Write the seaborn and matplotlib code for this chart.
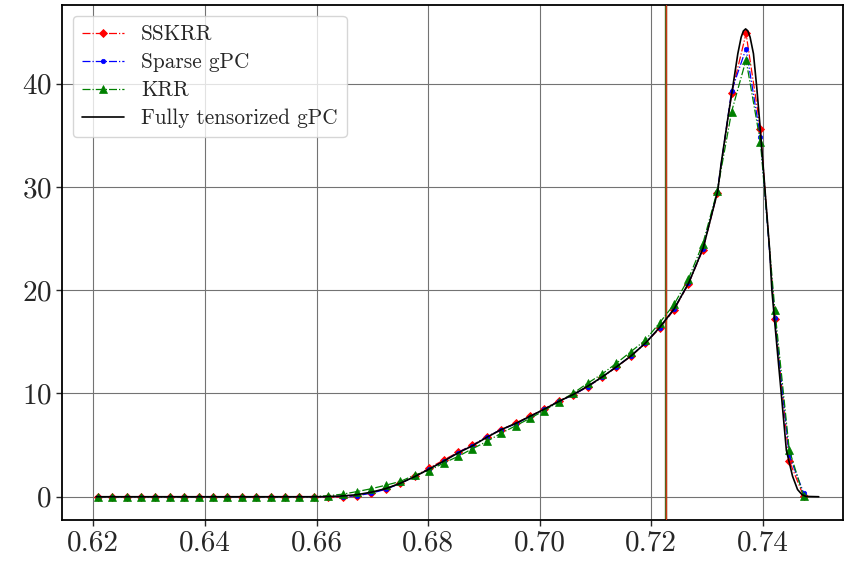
import numpy as np
import pandas as pd
import matplotlib
matplotlib.use("Agg")
import matplotlib.pyplot as plt
import seaborn as sns

# ---- data ----
x_start, x_stop, n_pts = 0.6208, 0.7473, 50
x_markers = np.linspace(x_start, x_stop, n_pts)

sskrr = [0, 0, 0, 0, 0, 0, 0, 0, 0, 0, 0, 0, 0, 0, 0,
         0.0, -0.05, -0.05, 0.1, 0.4, 0.78, 1.3, 1.98, 2.77, 3.55,
         4.3, 5.0, 5.8, 6.5, 7.1, 7.8, 8.5, 9.3, 9.85, 10.65,
         11.55, 12.55, 13.6, 14.85, 16.3, 18.1, 20.6, 23.9, 29.4, 39.06,
         44.86, 35.56, 17.17, 3.48, 0.03]
sparse_gpc = [0, 0, 0, 0, 0, 0, 0, 0, 0, 0, 0, 0, 0, 0, 0,
              0.0, 0.0, 0.02, 0.1, 0.35, 0.72, 1.3, 1.95, 2.7, 3.42,
              4.28, 4.96, 5.8, 6.5, 7.05, 7.76, 8.47, 9.25, 9.85, 10.66,
              11.56, 12.59, 13.62, 14.9, 16.35, 18.16, 20.65, 24.0, 29.5, 39.3,
              43.4, 34.8, 17.3, 4.0, 0.35]
krr = [0, 0, 0, 0, 0, 0, 0, 0, 0, 0, 0, 0, 0, 0, 0,
       0.02, 0.1, 0.25, 0.5, 0.78, 1.12, 1.48, 2.1, 2.54, 3.25,
       3.9, 4.64, 5.35, 6.15, 6.86, 7.6, 8.34, 9.2, 10.02, 10.99,
       11.88, 12.92, 14.04, 15.15, 16.84, 18.62, 21.1, 24.5, 29.6, 37.3,
       42.3, 34.3, 18.1, 4.54, 0.03]

x_full = [0.6205, 0.6260, 0.6400, 0.6550, 0.6600, 0.6621, 0.6647, 0.6673, 0.6699,
          0.6725, 0.6750, 0.6776, 0.6802, 0.6828, 0.6854, 0.6880, 0.6905, 0.6931,
          0.6957, 0.6983, 0.7009, 0.7035, 0.7060, 0.7086, 0.7112, 0.7138, 0.7164,
          0.7190, 0.7215, 0.7241, 0.7267, 0.7293, 0.7319, 0.7325, 0.7337, 0.7346,
          0.7355, 0.7361, 0.7365, 0.7369, 0.7373, 0.7377, 0.7383, 0.7389, 0.7394,
          0.7401, 0.7412, 0.7416, 0.7425, 0.7433, 0.7442, 0.7453, 0.7462, 0.7470,
          0.7477, 0.7500]
fully_gpc = [0.0, 0.0, 0.0, 0.0, 0.0, 0.02, 0.08, 0.2, 0.45, 0.8, 1.3, 1.95, 2.68,
             3.45, 4.25, 4.95, 5.75, 6.5, 7.1, 7.8, 8.5, 9.25, 9.9, 10.7, 11.6,
             12.6, 13.65, 14.9, 16.4, 18.2, 20.7, 24.1, 29.6, 32.2, 36.6, 39.7,
             42.9, 44.5, 45.1, 45.3, 45.1, 44.5, 42.9, 39.6, 36.4,
             31.6, 23.9, 20.0, 14.6, 9.9, 4.5, 2.0, 0.7, 0.2,
             0.03, 0.0]

x_vline = 0.7227

labels = ["SSKRR", "Sparse gPC", "KRR", "Fully tensorized gPC"]

# ---- style ----
sns.set_style("ticks")
plt.rcParams.update({
    "font.family": "serif",
    "font.serif": ["cmr10", "DejaVu Serif"],
    "mathtext.fontset": "cm",
    "axes.formatter.use_mathtext": True,
    "axes.unicode_minus": False,
})

fig = plt.figure(figsize=(8.44, 5.71), dpi=100)
ax = fig.add_axes([0.0735, 0.089, 0.925, 0.902])

sns.lineplot(x=x_markers, y=sskrr, ax=ax, color="red", linestyle="-.",
             linewidth=0.9, marker="D", markersize=3.6, markeredgewidth=0.6,
             markeredgecolor="red", label=labels[0], zorder=3)
sns.lineplot(x=x_markers, y=sparse_gpc, ax=ax, color="blue", linestyle="-.",
             linewidth=0.9, marker="o", markersize=3.2, markeredgewidth=0.5,
             markeredgecolor="blue", label=labels[1], zorder=3)
sns.lineplot(x=x_markers, y=krr, ax=ax, color="green", linestyle="-.",
             linewidth=0.9, marker="^", markersize=5.2, markeredgewidth=0.5,
             markeredgecolor="green", label=labels[2], zorder=3)
sns.lineplot(x=x_full, y=fully_gpc, ax=ax, color="black", linestyle="-",
             linewidth=1.2, label=labels[3], zorder=3, sort=False)

ax.axvline(x_vline, color="#4a6a20", linewidth=1.7, zorder=2.5)
ax.axvline(x_vline, color="#cc3515", linewidth=0.9, zorder=2.6)

ax.set_xticks([0.62, 0.64, 0.66, 0.68, 0.70, 0.72, 0.74])
ax.set_yticks([0, 10, 20, 30, 40])
ax.xaxis.set_major_formatter(matplotlib.ticker.FormatStrFormatter("%.2f"))
ax.set_xlim(0.6144, 0.7543)
ax.set_ylim(-2.27, 47.6)
ax.grid(True, color="0.45", linewidth=0.8)
ax.tick_params(axis="both", labelsize=21, length=4, width=1, direction="out")
for s in ax.spines.values():
    s.set_linewidth(1.3)
    s.set_color("black")
ax.set_xlabel("")
ax.set_ylabel("")

leg = ax.legend(loc="upper left", fontsize=15.3, frameon=True, fancybox=True,
                framealpha=0.8, borderpad=0.42, handlelength=2.0,
                labelspacing=0.4)
leg.get_frame().set_edgecolor("0.8")

fig.savefig("out.png", dpi=100)
